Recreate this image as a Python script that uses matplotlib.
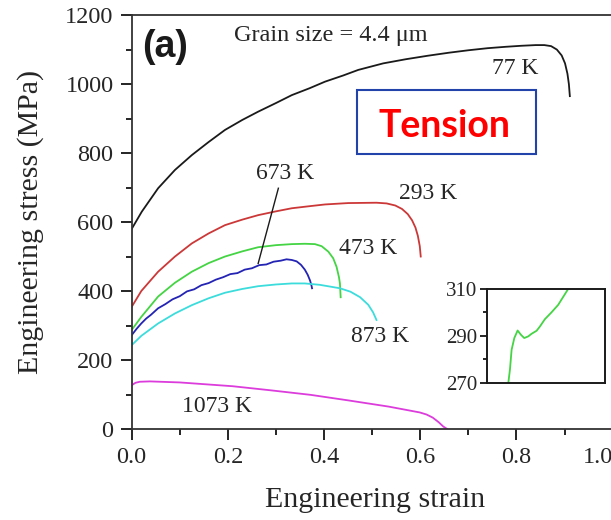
import matplotlib.pyplot as plt
from matplotlib.patches import Rectangle
from matplotlib.ticker import MultipleLocator, FixedLocator

plt.rcParams['font.family'] = ['Liberation Serif', 'DejaVu Serif']

# engineering stress-strain curves (strain, MPa)
strain_77 = [0, 0.021, 0.055, 0.09, 0.125, 0.16, 0.194, 0.23, 0.263, 0.30, 0.333, 0.37,
             0.402, 0.44, 0.471, 0.523, 0.57, 0.615, 0.66, 0.70, 0.74, 0.777, 0.81,
             0.84, 0.858, 0.872, 0.884, 0.894, 0.901, 0.906, 0.909, 0.911]
stress_77 = [580, 630, 698, 751, 794, 832, 867, 896, 920, 945, 968, 988,
             1007, 1025, 1041, 1060, 1072, 1082, 1091, 1098, 1104, 1108, 1111,
             1113, 1113, 1110, 1100, 1083, 1060, 1030, 1000, 965]

strain_293 = [0, 0.02, 0.055, 0.09, 0.125, 0.16, 0.194, 0.23, 0.263, 0.30, 0.333, 0.37,
              0.402, 0.45, 0.509, 0.53, 0.548, 0.562, 0.574, 0.583, 0.590, 0.595,
              0.599, 0.601]
stress_293 = [354, 400, 456, 500, 538, 567, 591, 607, 620, 631, 640, 646,
              651, 655, 656, 654, 648, 638, 623, 605, 584, 560,
              530, 500]

strain_473 = [0, 0.02, 0.055, 0.09, 0.125, 0.16, 0.194, 0.23, 0.263, 0.30, 0.333, 0.36,
              0.381, 0.395, 0.409, 0.419, 0.426, 0.431, 0.433, 0.4345]
stress_473 = [287, 325, 384, 424, 456, 481, 500, 515, 527, 533, 536, 537,
              536, 530, 514, 495, 470, 440, 422, 382]

strain_673 = [0, 0.01, 0.02, 0.03, 0.04, 0.055, 0.07, 0.085, 0.10, 0.115, 0.13, 0.145,
              0.16, 0.175, 0.19, 0.205, 0.22, 0.235, 0.25, 0.265, 0.28, 0.295, 0.31,
              0.322, 0.333, 0.343, 0.352, 0.36, 0.366, 0.371, 0.374, 0.375]
stress_673 = [272, 290, 306, 320, 331, 350, 362, 376, 385, 399, 405, 417,
              423, 433, 440, 449, 452, 462, 466, 475, 477, 485, 488,
              492, 490, 486, 476, 462, 447, 430, 415, 408]

strain_873 = [0, 0.02, 0.055, 0.09, 0.125, 0.16, 0.194, 0.23, 0.263, 0.30, 0.333, 0.36,
              0.391, 0.433, 0.455, 0.475, 0.492, 0.502, 0.509]
stress_873 = [243, 270, 306, 335, 359, 379, 395, 406, 414, 419, 422, 422,
              418, 408, 398, 382, 360, 338, 316]

strain_1073 = [0, 0.008, 0.017, 0.038, 0.1, 0.21, 0.29, 0.372, 0.45, 0.534, 0.599,
               0.613, 0.626, 0.638, 0.648, 0.656]
stress_1073 = [127, 134, 137, 138, 135, 124, 112, 99, 83, 65, 48,
               42, 33, 20, 7, 0]

# inset: yield region of the 473 K curve (relative strain, MPa)
inset_strain = [0.183, 0.197, 0.211, 0.234, 0.262, 0.29, 0.318, 0.352, 0.380,
                0.423, 0.451, 0.493, 0.549, 0.606, 0.690]
inset_stress = [270, 275.7, 284.1, 289.1, 292.3, 290.5, 289.1, 289.8, 290.9,
                292.2, 294, 297.1, 300, 303.2, 309.9]

curves = [
    (strain_77, stress_77, '#1a1a1a', '77 K', (0.797, 1046)),
    (strain_293, stress_293, '#cc3838', '293 K', (0.617, 683)),
    (strain_473, stress_473, '#44d444', '473 K', (0.492, 524)),
    (strain_673, stress_673, '#2424b4', '673 K', (0.319, 741)),
    (strain_873, stress_873, '#3cdcdc', '873 K', (0.516, 268)),
    (strain_1073, stress_1073, '#dc3cdc', '1073 K', (0.178, 65)),
]

text_col = '#262626'

fig = plt.figure(figsize=(6.11, 5.2), dpi=100)
ax = fig.add_axes([0.2155, 0.175, 0.7872, 0.796])

for s, sig, col, lab, pos in curves:
    ax.plot(s, sig, color=col, lw=1.3)
    ax.text(pos[0], pos[1], lab, fontsize=17, ha='center', va='center', color=text_col)

# leader line for the 673 K label
ax.plot([0.305, 0.263], [698, 480], color='#1a1a1a', lw=1.0)

ax.set_xlim(0, 1.0)
ax.set_ylim(0, 1200)
ax.xaxis.set_major_locator(MultipleLocator(0.2))
ax.xaxis.set_minor_locator(MultipleLocator(0.1))
ax.yaxis.set_major_locator(MultipleLocator(200))
ax.yaxis.set_minor_locator(MultipleLocator(100))
# the last label sits a little inside the frame edge
ax.xaxis.set_major_formatter(plt.FuncFormatter(lambda v, p: '' if v > 0.95 else f'{v:.1f}'))
ax.text(0.969, -0.044, '1.0', transform=ax.transAxes, fontsize=17.5, color=text_col,
        ha='center', va='top')
ax.tick_params(which='major', direction='out', length=8, width=1.2,
               labelsize=17.5, labelcolor=text_col, pad=5)
ax.tick_params(which='minor', direction='out', length=4, width=1.2)
ax.tick_params(top=False, right=False, which='both')
ax.spines['right'].set_visible(False)
for sp in ['left', 'bottom', 'top']:
    ax.spines[sp].set_linewidth(1.3)
    ax.spines[sp].set_color('#333333')

ax.set_xlabel('Engineering strain', fontsize=21.5, color=text_col)
ax.set_ylabel('Engineering stress (MPa)', fontsize=21.5, color=text_col)
ax.xaxis.set_label_coords(0.506, -0.140)
ax.yaxis.set_label_coords(-0.182, 0.5)

ax.text(0.069, 1108, '(a)', fontsize=27, fontweight='bold', family='Liberation Sans',
        ha='center', va='center', color='#1a1a1a')
ax.text(0.413, 1142, 'Grain size = 4.4 μm', fontsize=17.5, ha='center',
        va='center', color=text_col)

ax.add_patch(Rectangle((0.468, 798), 0.372, 185, fill=False,
                       edgecolor='#2244aa', lw=1.5))
ax.text(0.650, 878, 'Tension', fontsize=27, fontweight='bold', family='Lato',
        color='#ff0000', ha='center', va='center')

# inset
axin = fig.add_axes([0.7966, 0.2635, 0.193, 0.181])
axin.plot(inset_strain, inset_stress, color='#44d444', lw=1.3)
axin.set_xlim(0, 1)
axin.set_ylim(270, 310)
axin.set_xticks([])
axin.yaxis.set_major_locator(FixedLocator([270, 290, 310]))
axin.yaxis.set_minor_locator(FixedLocator([280, 300]))
axin.tick_params(which='major', direction='out', length=5, width=1.2,
                 labelsize=15, labelcolor=text_col, pad=2)
axin.tick_params(which='minor', direction='out', length=3, width=1.2)
for sp in axin.spines.values():
    sp.set_linewidth(1.4)
    sp.set_color('#1a1a1a')

fig.savefig('out.png', dpi=100)
